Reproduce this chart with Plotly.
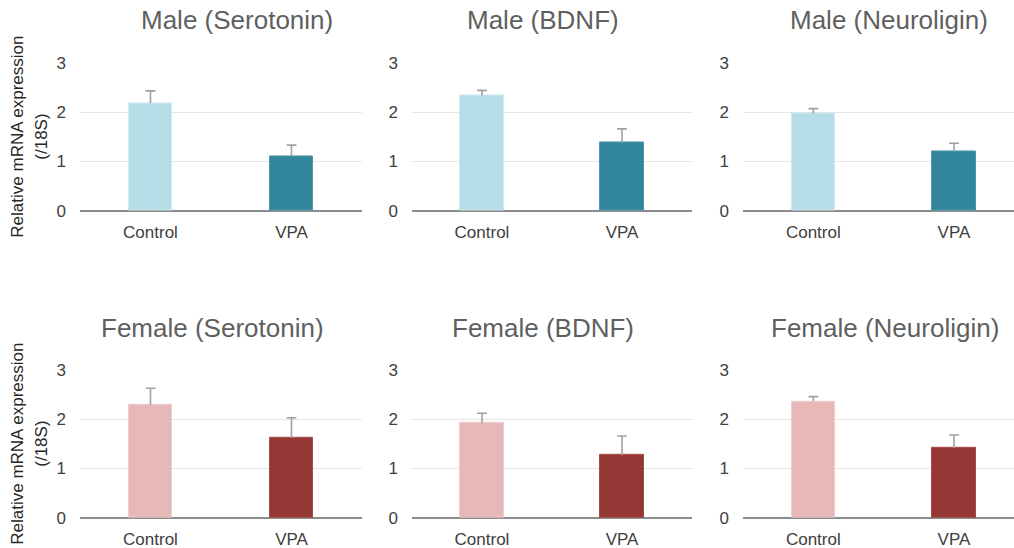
import plotly.graph_objects as go

# Relative mRNA expression (/18S), mean and upper SEM per group
groups = ["Control", "VPA"]
genes = ["Serotonin", "BDNF", "Neuroligin"]

male_means = [[2.18, 1.11], [2.33, 1.38], [1.97, 1.20]]
male_errors = [[0.25, 0.22], [0.11, 0.28], [0.10, 0.17]]
female_means = [[2.29, 1.62], [1.92, 1.27], [2.36, 1.41]]
female_errors = [[0.34, 0.41], [0.20, 0.39], [0.10, 0.27]]

y_ticks = [0, 1, 2, 3]
y_title = ["Relative mRNA expression", "(/18S)"]

W, H = 1014, 566
FONT = "Liberation Sans, Arial, sans-serif"
ERR_COLOR = "#A0A0A0"
male_colors = ["#B7DEE8", "#31859C"]
male_edges = ["#CDEAF1", "#4C97AB"]
female_colors = ["#E6B9B8", "#953735"]
female_edges = ["#EFCDCC", "#A54A48"]


def py(s):
    """Vertical page position (px) for a layout row placed at s."""
    return (s - 9) / 0.967


# pixel geometry of the six plot areas
col_px = [(80, 362), (412, 692), (743, 1014)]
col_x_range = [[-0.5, 1.5], [-0.5, 1.5], [-0.5, 1.427]]
row_px = [(py(62.5), py(211)), (py(370), py(518))]  # (y=3 line, y=0 line)

fig = go.Figure()

rows = [("Male", male_means, male_errors, male_colors, male_edges),
        ("Female", female_means, female_errors, female_colors, female_edges)]

title_pos = [[(237, py(20)), (543, py(20.5)), (889, py(20))],
             [(212.5, py(328)), (543.3, py(328)), (885, py(328))]]

k = 0
for r, (sex, means, errs, colors, edges) in enumerate(rows):
    for c, gene in enumerate(genes):
        k += 1
        xa = "x" if k == 1 else f"x{k}"
        ya = "y" if k == 1 else f"y{k}"
        fig.add_trace(go.Bar(
            x=groups, y=means[c], xaxis=xa, yaxis=ya,
            width=0.31,
            marker=dict(color=colors, line=dict(color=edges, width=1)),
            error_y=dict(type="data", symmetric=False, array=errs[c],
                         arrayminus=[0, 0], color=ERR_COLOR,
                         thickness=1.6, width=0),
            showlegend=False, hoverinfo="skip",
        ))
        # caps on top of the upper error whiskers
        tops = [m + e for m, e in zip(means[c], errs[c])]
        fig.add_trace(go.Scatter(
            x=groups, y=tops, xaxis=xa, yaxis=ya, mode="markers",
            marker=dict(symbol="line-ew-open", size=7, color=ERR_COLOR,
                        line=dict(color=ERR_COLOR, width=1.6)),
            showlegend=False, hoverinfo="skip",
        ))

        x0, x1 = col_px[c]
        yt, yb = row_px[r]
        fig.layout[f"xaxis{k if k > 1 else ''}"] = dict(
            domain=[x0 / W, x1 / W], range=col_x_range[c], anchor=ya,
            showgrid=False, zeroline=False, showline=False, ticks="",
            tickfont=dict(family=FONT, size=17, color="#404040"),
            ticklabelstandoff=9, fixedrange=True,
        )
        fig.layout[f"yaxis{k if k > 1 else ''}"] = dict(
            domain=[1 - yb / H, 1 - yt / H], range=[0, 3.004], anchor=xa,
            tickvals=y_ticks, showgrid=True, gridcolor="#E6E6E6", gridwidth=1,
            zeroline=True, zerolinecolor="#8C8C8C", zerolinewidth=1.5,
            showline=False, ticks="",
            tickfont=dict(family=FONT, size=17, color="#404040"),
            ticklabelstandoff=13, fixedrange=True,
        )

        tx, ty = title_pos[r][c]
        fig.add_annotation(
            text=f"{sex} ({gene})", x=tx / W, y=1 - ty / H,
            xref="paper", yref="paper", xanchor="center", yanchor="middle",
            showarrow=False,
            font=dict(family=FONT, size=26, color="#5F5F5F"),
        )

    # shared y-axis title for the row
    yc = (row_px[r][0] + row_px[r][1]) / 2
    for line, lx in zip(y_title, [18, 42]):
        fig.add_annotation(
            text=line, x=lx / W, y=1 - yc / H, xref="paper", yref="paper",
            xanchor="center", yanchor="middle", textangle=-90, showarrow=False,
            font=dict(family=FONT, size=17, color="#262626"),
        )

fig.update_layout(
    width=W, height=H, margin=dict(l=0, r=0, t=0, b=0),
    paper_bgcolor="white", plot_bgcolor="white",
    bargap=0, barmode="group",
)

fig.write_html("out.html", config={"displayModeBar": False})
